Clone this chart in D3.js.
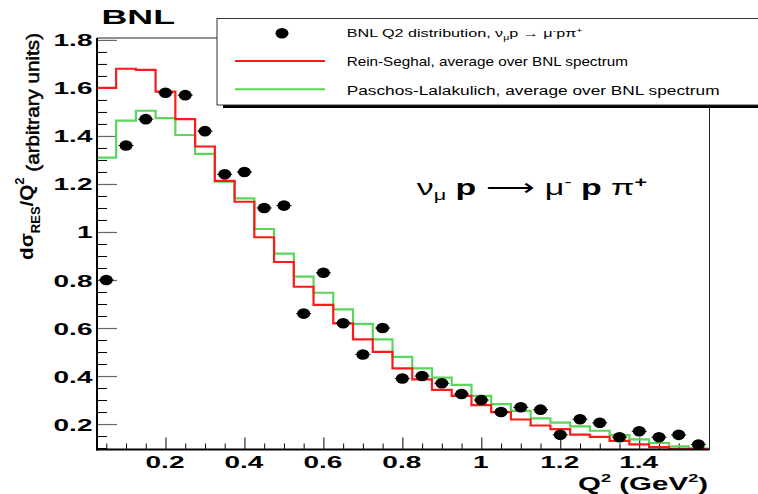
<!DOCTYPE html>
<html>
<head>
<meta charset="utf-8">
<script src="https://cdn.jsdelivr.net/npm/d3@7"></script>
<style>
  html, body { margin: 0; padding: 0; background: #fff; }
  svg { display: block; }
</style>
</head>
<body>
<svg id="chart" width="758" height="494"></svg>
<script>
// ---------------- DATA ----------------
const q2Centers = [0.05, 0.10, 0.15, 0.20, 0.25, 0.30, 0.35, 0.40, 0.45, 0.50,
                   0.55, 0.60, 0.65, 0.70, 0.75, 0.80, 0.85, 0.90, 0.95, 1.00,
                   1.05, 1.10, 1.15, 1.20, 1.25, 1.30, 1.35, 1.40, 1.45, 1.50, 1.55];
const bnlData = [0.80, 1.36, 1.47, 1.58, 1.57, 1.42, 1.24, 1.25, 1.10, 1.11,
                 0.66, 0.83, 0.62, 0.49, 0.60, 0.39, 0.40, 0.37, 0.325, 0.30,
                 0.25, 0.27, 0.26, 0.155, 0.22, 0.205, 0.145, 0.17, 0.145, 0.155, 0.115];
const reinSeghal = [1.60, 1.68, 1.675, 1.585, 1.47, 1.356, 1.213, 1.126, 0.978, 0.875,
                    0.772, 0.696, 0.619, 0.553, 0.501, 0.432, 0.386, 0.342, 0.317, 0.279,
                    0.25, 0.219, 0.194, 0.179, 0.156, 0.147, 0.13, 0.115, 0.104, 0.097, 0.096];
const paschosLalakulich = [1.31, 1.464, 1.505, 1.474, 1.404, 1.325, 1.21, 1.14, 1.0125, 0.91,
                           0.814, 0.747, 0.678, 0.617, 0.553, 0.48, 0.432, 0.393, 0.363, 0.317,
                           0.283, 0.255, 0.224, 0.206, 0.19, 0.172, 0.154, 0.136, 0.121, 0.107, 0.099];
const xTickValues = [0.2, 0.4, 0.6, 0.8, 1.0, 1.2, 1.4];
const xTickLabels = ["0.2", "0.4", "0.6", "0.8", "1", "1.2", "1.4"];
const yTickValues = [0.2, 0.4, 0.6, 0.8, 1.0, 1.2, 1.4, 1.6, 1.8];
const yTickLabels = ["0.2", "0.4", "0.6", "0.8", "1", "1.2", "1.4", "1.6", "1.8"];
const legendLabels = ["BNL Q2 distribution", "Rein-Seghal, average over BNL spectrum",
                      "Paschos-Lalakulich, average over BNL spectrum"];
const binHalfWidth = 0.025;

// ---------------- LAYOUT ----------------
const FONT = "'Liberation Sans', Arial, Helvetica, sans-serif";
const L = 97, R = 709.5, T = 38, B = 449.5;
const RED = "#ff1a1a", GREEN = "#5ad65a";

const svg = d3.select("#chart");
svg.append("rect").attr("width", 758).attr("height", 494).attr("fill", "#fff");

const x = d3.scaleLinear().domain([0.0265, 1.578]).range([L, R]);
const y = d3.scaleLinear().domain([0.094, 1.808]).range([B, T]);

function fitText(parent, opts, build) {
  const t = parent.append("text")
    .attr("font-family", FONT)
    .attr("font-size", opts.size)
    .attr("font-weight", opts.weight || "normal")
    .attr("text-anchor", opts.anchor || "start")
    .attr("fill", "#000");
  build(t);
  const w = t.node().getComputedTextLength();
  const s = opts.width ? opts.width / w : 1;
  t.attr("transform", `translate(${opts.x},${opts.y})${opts.rotate ? " rotate(-90)" : ""} scale(${s},1)`);
  return t;
}

// ---------------- AXES ----------------
const yMinor = d3.range(0.1, 1.8001, 0.05).filter(v => Math.abs(v * 5 - Math.round(v * 5)) > 1e-6);
svg.append("g").attr("transform", `translate(${L},0)`)
  .call(d3.axisLeft(y).tickValues(yMinor).tickSize(-10).tickFormat(""))
  .call(g => g.select(".domain").remove())
  .call(g => g.selectAll("line").attr("stroke", "#000").attr("stroke-width", 1));
const yAxisG = svg.append("g").attr("transform", `translate(${L},0)`)
  .call(d3.axisLeft(y).tickValues(yTickValues).tickSize(-20).tickPadding(0)
        .tickFormat((d, i) => yTickLabels[i]))
  .call(g => g.select(".domain").remove());
yAxisG.selectAll("line").attr("stroke", "#666").attr("stroke-width", 1.2);
yAxisG.selectAll("text").each(function () {
  d3.select(this).attr("font-family", FONT).attr("font-size", 16.7).attr("font-weight", "bold")
   .attr("fill", "#000").attr("text-anchor", "end").attr("x", 0).attr("dy", null)
   .attr("transform", "translate(-4.5,6) scale(1.68,1)");
});

const xMinor = d3.range(0.05, 1.5501, 0.05).filter(v => Math.abs(v * 5 - Math.round(v * 5)) > 1e-6);
svg.append("g").attr("transform", `translate(0,${B})`)
  .call(d3.axisBottom(x).tickValues(xMinor).tickSize(-6).tickFormat(""))
  .call(g => g.select(".domain").remove())
  .call(g => g.selectAll("line").attr("stroke", "#000").attr("stroke-width", 1));
const xAxisG = svg.append("g").attr("transform", `translate(0,${B})`)
  .call(d3.axisBottom(x).tickValues(xTickValues).tickSize(-12).tickPadding(0)
        .tickFormat((d, i) => xTickLabels[i]))
  .call(g => g.select(".domain").remove());
xAxisG.selectAll("line").attr("stroke", "#000").attr("stroke-width", 1);
xAxisG.selectAll("text").each(function () {
  d3.select(this).attr("font-family", FONT).attr("font-size", 16.7).attr("font-weight", "bold")
   .attr("fill", "#000").attr("text-anchor", "middle").attr("y", 0).attr("dy", null)
   .attr("transform", "translate(-1,18.5) scale(1.68,1)");
});

// ---------------- HISTOGRAMS ----------------
svg.append("clipPath").attr("id", "frameClip")
  .append("rect").attr("x", L).attr("y", T).attr("width", R - L).attr("height", B - T);
const plot = svg.append("g").attr("clip-path", "url(#frameClip)");
const stepLine = d3.line().x(d => x(d[0])).y(d => y(d[1]));
function histPoints(vals) {
  const p = [];
  q2Centers.forEach((c, i) => { p.push([c - binHalfWidth, vals[i]]); p.push([c + binHalfWidth, vals[i]]); });
  return p;
}
plot.append("path").attr("d", stepLine(histPoints(paschosLalakulich)))
  .attr("fill", "none").attr("stroke", GREEN).attr("stroke-width", 2.2);
plot.append("path").attr("d", stepLine(histPoints(reinSeghal)))
  .attr("fill", "none").attr("stroke", RED).attr("stroke-width", 2.2);

// ---------------- FRAME ----------------
svg.append("line").attr("x1", L).attr("x2", 217).attr("y1", T).attr("y2", T)
  .attr("stroke", "#222").attr("stroke-width", 1);
svg.append("line").attr("x1", R).attr("x2", R).attr("y1", 106).attr("y2", B)
  .attr("stroke", "#222").attr("stroke-width", 1);
svg.append("line").attr("x1", L).attr("x2", L).attr("y1", T).attr("y2", B + 1)
  .attr("stroke", "#000").attr("stroke-width", 2);
svg.append("line").attr("x1", L - 1).attr("x2", R).attr("y1", B).attr("y2", B)
  .attr("stroke", "#000").attr("stroke-width", 2);

// ---------------- DATA POINTS ----------------
const pts = svg.append("g");
q2Centers.forEach((c, i) => {
  pts.append("line").attr("x1", x(c - 0.019)).attr("x2", x(c + 0.019))
    .attr("y1", y(bnlData[i])).attr("y2", y(bnlData[i]))
    .attr("stroke", "#000").attr("stroke-width", 1);
  pts.append("ellipse").attr("cx", x(c)).attr("cy", y(bnlData[i]))
    .attr("rx", 6.5).attr("ry", 5.3).attr("fill", "#000");
});

// ---------------- LEGEND ----------------
const leg = svg.append("g");
leg.append("rect").attr("x", 223).attr("y", 105).attr("width", 560).attr("height", 3).attr("fill", "#000");
leg.append("rect").attr("x", 217).attr("y", 18.5).attr("width", 560).attr("height", 86.5)
  .attr("fill", "#fff").attr("stroke", "#333").attr("stroke-width", 1);
leg.append("ellipse").attr("cx", 282).attr("cy", 33.3).attr("rx", 6.5).attr("ry", 5.3).attr("fill", "#000");
leg.append("line").attr("x1", 235).attr("x2", 325).attr("y1", 61).attr("y2", 61)
  .attr("stroke", RED).attr("stroke-width", 2);
leg.append("line").attr("x1", 235).attr("x2", 325).attr("y1", 89.3).attr("y2", 89.3)
  .attr("stroke", GREEN).attr("stroke-width", 2);
fitText(leg, { x: 346.7, y: 37, size: 11.5, width: 236 }, t => {
  t.append("tspan").text(legendLabels[0] + ", ν");
  t.append("tspan").attr("font-size", 7.5).attr("dy", 3).text("μ");
  t.append("tspan").attr("dy", -3).text("p → μ");
  t.append("tspan").attr("font-size", 7.5).attr("dy", -4).text("-");
  t.append("tspan").attr("dy", 4).text("pπ");
  t.append("tspan").attr("font-size", 7.5).attr("dy", -4).text("+");
});
fitText(leg, { x: 346.7, y: 66, size: 12.5, width: 281.6 }, t => t.text(legendLabels[1]));
fitText(leg, { x: 346.7, y: 94.5, size: 12.5, width: 373 }, t => t.text(legendLabels[2]));

// ---------------- TITLES ----------------
fitText(svg, { x: 101.5, y: 24, size: 20, weight: "bold", width: 73.5 }, t => t.text("BNL"));

fitText(svg, { x: 708, y: 490, size: 18, weight: "bold", anchor: "end", width: 130 }, t => {
  t.append("tspan").text("Q");
  t.append("tspan").attr("font-size", 11).attr("dy", -8).text("2");
  t.append("tspan").attr("dy", 8).text(" (GeV");
  t.append("tspan").attr("font-size", 11).attr("dy", -8).text("2");
  t.append("tspan").attr("dy", 8).text(")");
});

fitText(svg, { x: 32.5, y: 33, size: 19, weight: "bold", anchor: "end", rotate: true, width: 227 }, t => {
  t.append("tspan").text("dσ");
  t.append("tspan").attr("font-size", 12).attr("dy", 7).text("RES");
  t.append("tspan").attr("dy", -7).text("/Q");
  t.append("tspan").attr("font-size", 12).attr("dy", -9).text("2");
  t.append("tspan").attr("dy", 15).attr("font-weight", "normal").attr("stroke", "#000").attr("stroke-width", 0.5)
    .text(" (arbitrary units)");
});

fitText(svg, { x: 416.7, y: 195, size: 22, width: 230 }, t => {
  t.append("tspan").text("ν");
  t.append("tspan").attr("font-size", 14).attr("dy", 5).text("μ");
  t.append("tspan").attr("dy", -5).attr("font-weight", "bold").text(" p ");
  t.append("tspan").text("⟶ μ");
  t.append("tspan").attr("font-size", 14).attr("dy", -8).text("-");
  t.append("tspan").attr("dy", 8).attr("font-weight", "bold").text(" p ");
  t.append("tspan").text("π");
  t.append("tspan").attr("font-size", 14).attr("dy", -8).attr("font-weight", "bold").text("+");
});
</script>
</body>
</html>
